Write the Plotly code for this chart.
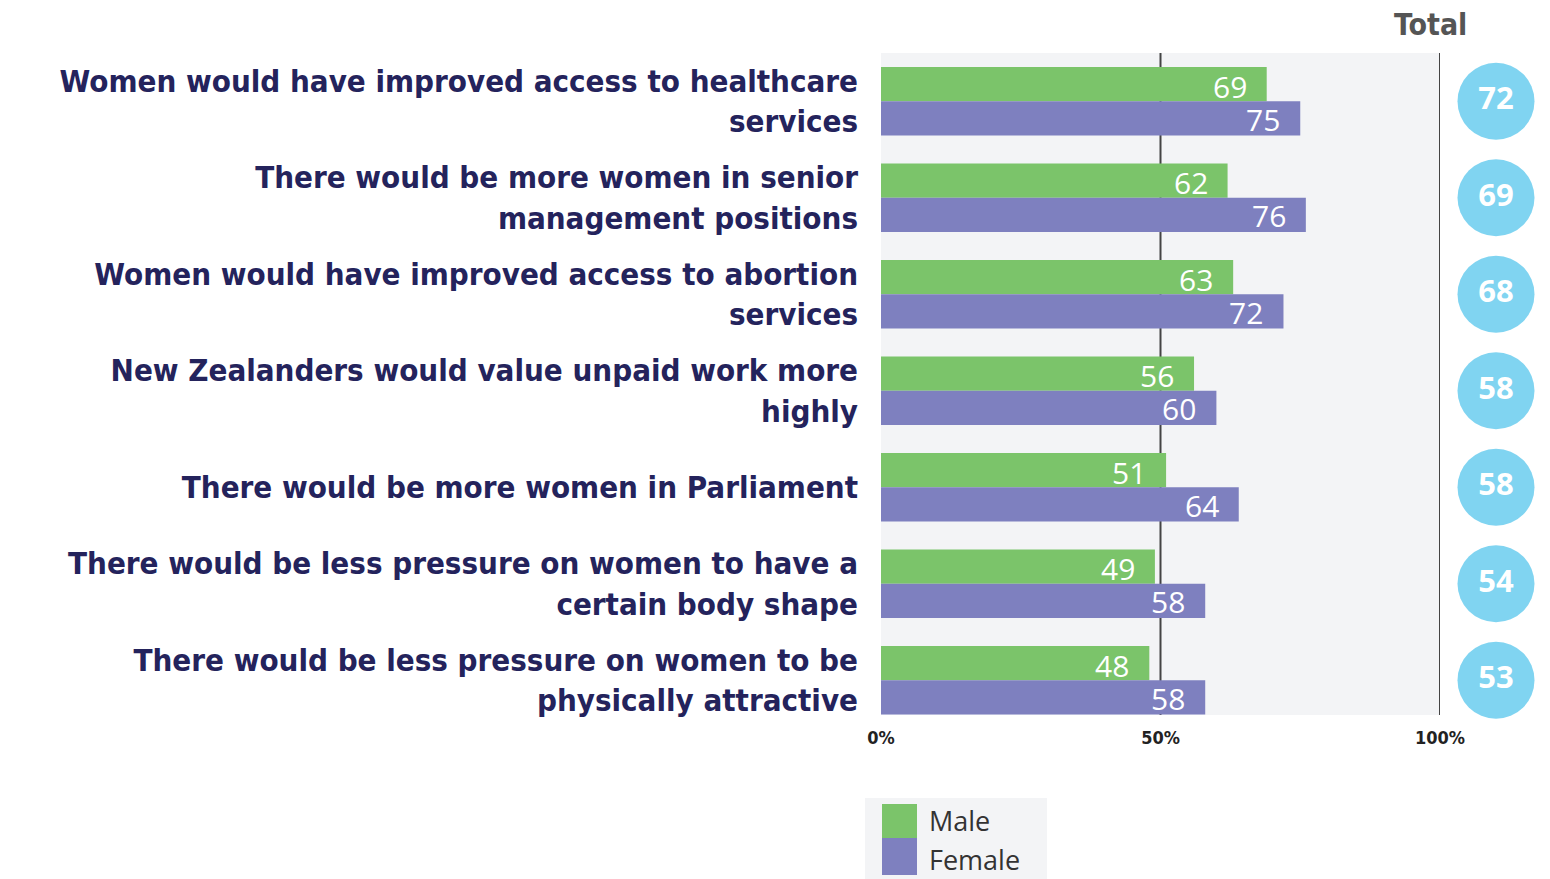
import plotly.graph_objects as go

categories = [
    "Women would have improved access to healthcare<br>services",
    "There would be more women in senior<br>management positions",
    "Women would have improved access to abortion<br>services",
    "New Zealanders would value unpaid work more<br>highly",
    "There would be more women in Parliament",
    "There would be less pressure on women to have a<br>certain body shape",
    "There would be less pressure on women to be<br>physically attractive",
]
male = [69, 62, 63, 56, 51, 49, 48]
female = [75, 76, 72, 60, 64, 58, 58]
total = [72, 69, 68, 58, 58, 54, 53]
tick_vals = [0, 50, 100]
tick_text = ["0%", "50%", "100%"]

GREEN = "#7bc46a"
PURPLE = "#7e80bf"
BLUE = "#80d4f1"
NAVY = "#24235c"
LABEL_FONT = "DejaVu Sans Condensed, Liberation Sans"

W, H = 1550, 879
L, T, B = 881, 53, 164
PW = W - L
PH = H - T - B


def px_x(px):
    return (px - L) / PW


def px_y(py):
    return (H - B - py) / PH


fig = go.Figure()
fig.add_trace(go.Bar(y=categories, x=male, name="Male", orientation="h",
                     marker=dict(color=GREEN, line=dict(width=0)),
                     hoverinfo="skip", showlegend=False))
fig.add_trace(go.Bar(y=categories, x=female, name="Female", orientation="h",
                     marker=dict(color=PURPLE, line=dict(width=0)),
                     hoverinfo="skip", showlegend=False))
fig.add_trace(go.Scatter(y=categories, x=[0.5] * len(total), xaxis="x2",
                         mode="markers+text", text=[str(v) for v in total],
                         textposition="middle center",
                         textfont=dict(color="white", size=31, family="Open Sans",
                                       weight="bold"),
                         marker=dict(size=77, color=BLUE, line=dict(width=0)),
                         hoverinfo="skip", showlegend=False, cliponaxis=False))

annotations = []
for cat, m, f in zip(categories, male, female):
    annotations.append(dict(x=m, y=cat, xref="x", yref="y", text=str(m),
                            showarrow=False, xanchor="right", yanchor="middle",
                            xshift=-18, yshift=15,
                            font=dict(color="white", size=30, family="Open Sans")))
    annotations.append(dict(x=f, y=cat, xref="x", yref="y", text=str(f),
                            showarrow=False, xanchor="right", yanchor="middle",
                            xshift=-18, yshift=-18,
                            font=dict(color="white", size=30, family="Open Sans")))

annotations.append(dict(x=px_x(1430), y=px_y(25), xref="paper", yref="paper",
                        text="<b>Total</b>", showarrow=False,
                        xanchor="center", yanchor="middle",
                        font=dict(color="#555555", size=30, family=LABEL_FONT)))
annotations.append(dict(x=px_x(927), y=px_y(820), xref="paper", yref="paper",
                        text="Male", showarrow=False, xanchor="left", yanchor="middle",
                        font=dict(color="#333333", size=27, family="Open Sans")))
annotations.append(dict(x=px_x(927), y=px_y(859), xref="paper", yref="paper",
                        text="Female", showarrow=False, xanchor="left", yanchor="middle",
                        font=dict(color="#333333", size=27, family="Open Sans")))

shapes = [
    dict(type="rect", xref="paper", yref="paper", x0=0, x1=px_x(1440),
         y0=0, y1=1, fillcolor="#f3f4f6", line=dict(width=0), layer="below"),
    dict(type="line", xref="x", yref="paper", x0=50, x1=50, y0=0, y1=1,
         line=dict(color="#444444", width=2), layer="below"),
    dict(type="line", xref="x", yref="paper", x0=100, x1=100, y0=0, y1=1,
         line=dict(color="#444444", width=2), layer="below"),
    dict(type="rect", xref="paper", yref="paper", x0=px_x(865), x1=px_x(1047),
         y0=px_y(879), y1=px_y(798), fillcolor="#f3f4f6", line=dict(width=0)),
    dict(type="rect", xref="paper", yref="paper", x0=px_x(882), x1=px_x(917),
         y0=px_y(838), y1=px_y(804), fillcolor=GREEN, line=dict(width=0)),
    dict(type="rect", xref="paper", yref="paper", x0=px_x(882), x1=px_x(917),
         y0=px_y(875), y1=px_y(838), fillcolor=PURPLE, line=dict(width=0)),
]

fig.update_layout(
    width=W, height=H,
    margin=dict(l=L, r=0, t=T, b=B, autoexpand=False),
    paper_bgcolor="white", plot_bgcolor="rgba(0,0,0,0)",
    barmode="group", bargap=0.29, bargroupgap=0,
    xaxis=dict(domain=[0, px_x(1440)], range=[0, 100], tickvals=tick_vals,
               ticktext=tick_text, showgrid=False, zeroline=False, showline=False,
               ticks="", tickfont=dict(size=18, color="#222222", family=LABEL_FONT,
                                       weight="bold"),
               ticklabelstandoff=10, fixedrange=True, automargin=False),
    xaxis2=dict(domain=[px_x(1458), px_x(1534)], range=[0, 1], visible=False,
                anchor="y", fixedrange=True, automargin=False),
    yaxis=dict(categoryorder="array", categoryarray=categories, range=[6.36, -0.5],
               autorange=False,
               showgrid=False, zeroline=False, showline=False, ticks="",
               tickfont=dict(size=31, color=NAVY, family=LABEL_FONT, weight="bold"),
               ticklabelstandoff=22, fixedrange=True, automargin=False),
    annotations=annotations, shapes=shapes,
    font=dict(family="Liberation Sans"),
)

fig.write_html("out.html")
